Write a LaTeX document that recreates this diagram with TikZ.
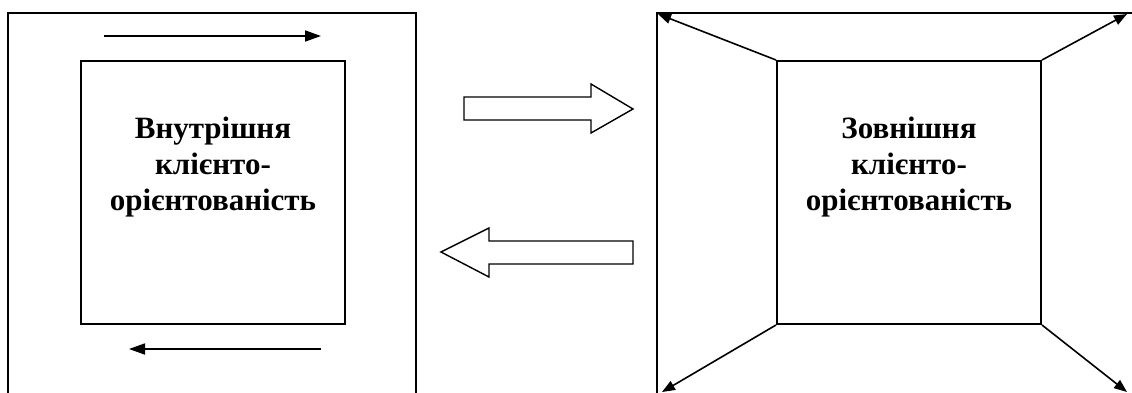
\documentclass[tikz,border=0pt]{standalone}
\usepackage{fontspec}
\setmainfont{Liberation Serif}
\usetikzlibrary{arrows.meta}
\tikzset{
  frame/.style={line width=2pt},
  core/.style={draw, line width=2pt, minimum width=264pt, minimum height=263pt, inner sep=0pt},
  caption/.style={align=center, font=\fontsize{31}{36}\selectfont\bfseries, inner sep=0pt},
  flow/.style={line width=1.8pt, -{Triangle[length=16pt,width=11pt]}},
  spread/.style={line width=1.6pt, -{Triangle[length=13pt,width=10pt]}},
  bigarrow/.style={line width=1.4pt, line join=miter}
}
\begin{document}
\begin{tikzpicture}[x=1pt,y=-1pt]
  \useasboundingbox (0,0) rectangle (1132,392);

  % left frame (open at the bottom edge of the page)
  \coordinate (lbl) at (8,394);
  \coordinate (ltl) at (8,13);
  \coordinate (ltr) at (416,13);
  \coordinate (lbr) at (416,394);
  \draw[frame] (lbl) -- (ltl) -- (ltr) -- (lbr);

  % inner box: internal client orientation
  \node[core] (inner) at (213,192.5) {};
  \node[caption, anchor=base] (innertxt) at (213,210) {Внутрішня\\клієнто-\\орієнтованість};

  % circulation arrows around the inner box
  \coordinate (ta) at (104,36);
  \coordinate (tb) at (321,36);
  \coordinate (ba) at (321,349);
  \coordinate (bb) at (129,349);
  \draw[flow] (ta) -- (tb);
  \draw[flow] (ba) -- (bb);

  % hollow block arrows between the two parts
  \draw[bigarrow] (464,97) -- (591,97) -- (591,84) -- (633,109) -- (591,133)
                  -- (591,120) -- (464,120) -- cycle;
  \draw[bigarrow] (633,241) -- (489,241) -- (489,228) -- (441,252) -- (489,277)
                  -- (489,264) -- (633,264) -- cycle;

  % right frame (open to the right and bottom)
  \coordinate (rbl) at (657,394);
  \coordinate (rtl) at (657,13);
  \coordinate (rtr) at (1134,13);
  \draw[frame] (rbl) -- (rtl) -- (rtr);

  % inner box: external client orientation
  \node[core] (outer) at (909,192.5) {};
  \node[caption, anchor=base] (outertxt) at (909,210) {Зовнішня\\клієнто-\\орієнтованість};

  % arrows from the inner box corners outward
  \coordinate (c1) at (658,14);
  \coordinate (c2) at (1127,14);
  \coordinate (c3) at (662,392);
  \coordinate (c4) at (1127,392);
  \draw[spread] (outer.north west) -- (c1);
  \draw[spread] (outer.north east) -- (c2);
  \draw[spread] (outer.south west) -- (c3);
  \draw[spread] (outer.south east) -- (c4);
\end{tikzpicture}
\end{document}
